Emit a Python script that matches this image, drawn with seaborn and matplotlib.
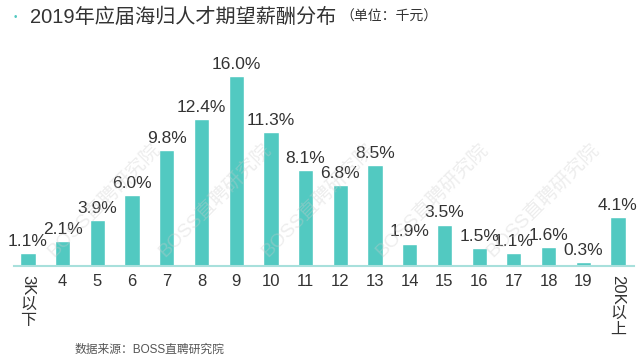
import matplotlib
matplotlib.use("Agg")
import matplotlib.pyplot as plt
import seaborn as sns
import pandas as pd

categories = ["3K以下", "4", "5", "6", "7", "8", "9", "10", "11", "12", "13",
              "14", "15", "16", "17", "18", "19", "20K以上"]
values = [1.1, 2.1, 3.9, 6.0, 9.8, 12.4, 16.0, 11.3, 8.1, 6.8, 8.5,
          1.9, 3.5, 1.5, 1.1, 1.6, 0.3, 4.1]
title = "2019年应届海归人才期望薪酬分布"
unit = "（单位：千元）"
source = "数据来源：BOSS直聘研究院"
watermark = "BOSS直聘研究院"

sns.set_theme(style="white")
plt.rcParams['font.family'] = ['Liberation Sans', 'Noto Sans CJK SC', 'DejaVu Sans']

df = pd.DataFrame({"cat": categories, "val": values})

fig = plt.figure(figsize=(6.4, 3.61), dpi=100)
ax = fig.add_axes([0.022, 0.263, 0.968, 0.598])
sns.barplot(data=df, x="cat", y="val", color="#52C9C1", saturation=1,
            width=0.44, ax=ax, zorder=2)
ax.set_xlim(-0.4, 17.45)
ax.set_ylim(0, 18.2)
ax.set_xlabel("")
ax.set_ylabel("")
ax.set_yticks([])
for s in ["top", "right", "left"]:
    ax.spines[s].set_visible(False)
ax.spines["bottom"].set_color("#A8E0DC")
ax.spines["bottom"].set_linewidth(1.5)

labels = [f"{v:.1f}%" for v in values]
ax.bar_label(ax.containers[0], labels=labels, padding=3, fontsize=12.5,
             color="#333333")

ax.set_xticks(range(len(categories)))
ax.set_xticklabels([])
ax.tick_params(axis="x", length=0)
xt = ax.get_xaxis_transform()
fig.canvas.draw()
renderer = fig.canvas.get_renderer()
for i, c in enumerate(categories):
    latin = "".join(ch for ch in c if ord(ch) < 128)
    cjk = [ch for ch in c if ord(ch) >= 128]
    if cjk:
        t = ax.annotate(latin, xy=(i, 0), xycoords=xt, xytext=(0, -9),
                        textcoords="offset pixels", rotation=-90,
                        ha="left", va="center", rotation_mode="anchor",
                        fontsize=12, color="#333333")
        bb = t.get_window_extent(renderer)
        y0 = 9 + bb.height + 9
        for k, ch in enumerate(cjk):
            ax.annotate(ch, xy=(i, 0), xycoords=xt,
                        xytext=(0, -(y0 + k * 16)),
                        textcoords="offset pixels", ha="center",
                        va="center", fontsize=11.5, color="#333333")
    else:
        ax.annotate(c, xy=(i, 0), xycoords=xt, xytext=(0, -8),
                    textcoords="offset pixels", ha="center", va="top",
                    fontsize=12, color="#333333")

# watermarks
for xp in [104, 215, 318, 432, 543]:
    fig.text(xp / 640, 1 - 200 / 361, watermark, rotation=45, ha="center",
             va="center", fontsize=14, color="#cccccc", alpha=0.35, zorder=5)

fig.text(14 / 640, 1 - 17 / 361, "•", color="#52C9C1", fontsize=7,
         ha="left", va="center")
fig.text(30 / 640, 1 - 17 / 361, title, fontsize=14.5, color="#333333",
         ha="left", va="center")
fig.text(340 / 640, 1 - 17 / 361, unit, fontsize=10, color="#333333",
         ha="left", va="center")
fig.text(75 / 640, 1 - 350 / 361, source, fontsize=8.5, color="#555555",
         ha="left", va="center")

fig.savefig("out.png", dpi=100)
